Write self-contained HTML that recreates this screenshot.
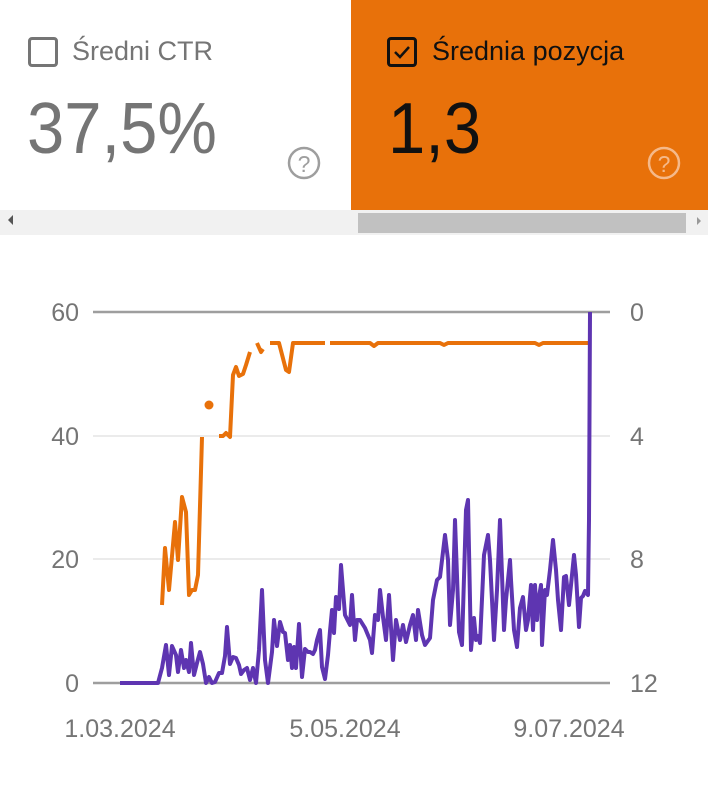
<!DOCTYPE html>
<html><head><meta charset="utf-8"><style>
body{margin:0;width:708px;height:800px;background:#fff;font-family:"Liberation Sans",sans-serif;position:relative;overflow:hidden}
.a{position:absolute;white-space:nowrap}
</style></head><body>
<div class="a" style="left:351px;top:0;width:357px;height:210px;background:#e8710a"></div>
<div class="a" style="left:0;top:210px;width:708px;height:25px;background:#f1f1f1"></div>
<div class="a" style="left:358px;top:213px;width:328px;height:20px;background:#c1c1c1"></div>
<div class="a" style="left:8px;top:215px;width:0;height:0;border:5px solid transparent;border-right:5px solid #555;border-left:0"></div>
<div class="a" style="left:697px;top:217px;width:0;height:0;border:4px solid transparent;border-left:4px solid #999;border-right:0"></div>
<div class="a" style="left:28px;top:37px;width:30px;height:30px;border:3px solid #757575;border-radius:4px;box-sizing:border-box"></div>
<div class="a" style="left:72px;top:36px;font-size:27px;color:#757575">Średni CTR</div>
<div class="a" style="left:27px;top:88px;font-size:72px;color:#757575;transform:scaleX(.93);transform-origin:0 0">37,5%</div>
<div class="a" style="left:387px;top:37px;width:30px;height:30px;border:3px solid #111;border-radius:4px;box-sizing:border-box"></div>
<svg class="a" style="left:387px;top:37px" width="30" height="30"><path d="M8 15 L13 20 L22 10" stroke="#111" stroke-width="2.5" fill="none"/></svg>
<div class="a" style="left:432px;top:36px;font-size:27px;color:#111">Średnia pozycja</div>
<div class="a" style="left:388px;top:88px;font-size:72px;color:#111;transform:scaleX(.93);transform-origin:0 0">1,3</div>
<svg class="a" style="left:0;top:0" width="708" height="800">
<circle cx="304" cy="163" r="15" fill="none" stroke="#9e9e9e" stroke-width="2.5"/>
<text x="304" y="172" font-size="23" fill="#9e9e9e" text-anchor="middle" font-family="Liberation Sans">?</text>
<circle cx="664" cy="163" r="15" fill="none" stroke="#f5b98a" stroke-width="2.5"/>
<text x="664" y="172" font-size="23" fill="#f5b98a" text-anchor="middle" font-family="Liberation Sans">?</text>
<g stroke="#ebebeb" stroke-width="2"><line x1="93" y1="436" x2="610" y2="436"/><line x1="93" y1="559" x2="610" y2="559"/></g>
<line x1="93" y1="312" x2="610" y2="312" stroke="#9e9e9e" stroke-width="2.5"/>
<line x1="93" y1="683" x2="610" y2="683" stroke="#9e9e9e" stroke-width="2.5"/>
<g font-family="Liberation Sans" font-size="25" fill="#757575">
<text x="79" y="321" text-anchor="end">60</text><text x="79" y="445" text-anchor="end">40</text><text x="79" y="568" text-anchor="end">20</text><text x="79" y="692" text-anchor="end">0</text>
<text x="630" y="321">0</text><text x="630" y="445">4</text><text x="630" y="568">8</text><text x="630" y="692">12</text>
<text x="120" y="737" text-anchor="middle">1.03.2024</text><text x="345" y="737" text-anchor="middle">5.05.2024</text><text x="569" y="737" text-anchor="middle">9.07.2024</text>
</g>
<g fill="none" stroke="#e8710a" stroke-width="4" stroke-linejoin="round">
<polyline points="162,605 165,548 169,590 175,522 178,560 182,497 186,512 189,595 192,590 195,590 198,575 202,437"/>
<polyline points="219,436 223,436 226,433 230,437 233,375 236,367 239,376 243,374 246,365 250,352"/>
<polyline points="257,343 261,352 263,349"/>
<polyline points="270,343 279,343 286,370 289,372 293,343 325,343"/>
<polyline points="330,343 370,343 374,346 378,343 440,343 444,345 448,343 535,343 539,345 543,343 589,343"/>
</g>
<circle cx="209" cy="405" r="4.5" fill="#e8710a"/>
<polyline fill="none" stroke="#5e35b1" stroke-width="4" stroke-linejoin="round" points="120,683 158,683 162,668 166,645 169,675 172,646 176,655 178,672 181,650 184,668 186,660 189,672 191,643 194,675 197,663 200,652 203,664 206,683 209,677 212,683 215,682 219,673 222,673 225,656 227,627 230,664 233,657 236,658 239,665 241,674 244,670 247,668 250,680 253,668 256,683 259,650 262,590 265,660 268,683 272,652 274,620 277,646 280,622 283,632 285,633 288,660 290,645 292,668 294,647 296,668 299,624 302,677 305,649 308,652 310,652 313,654 315,650 317,640 320,630 322,667 325,679 328,655 330,631 332,610 334,633 336,597 339,609 341,565 345,615 350,625 352,595 355,640 357,620 360,620 365,628 370,640 372,653 375,615 378,620 380,590 383,617 386,640 389,595 393,660 396,620 400,640 403,625 406,642 410,625 413,615 416,640 418,610 422,635 425,645 430,638 433,600 437,580 440,577 445,535 448,560 450,625 453,590 455,520 459,632 462,645 466,510 468,500 471,650 474,618 476,640 478,636 480,643 484,555 488,535 490,560 494,640 497,590 500,520 504,630 506,600 510,560 511,580 514,630 517,647 520,608 523,597 526,630 528,620 531,585 533,630 535,585 537,620 538,603 541,585 542,645 545,590 547,595 550,570 553,540 556,570 558,600 561,630 564,577 566,576 569,605 574,555 576,575 579,627 581,598 583,596 585,591 588,595 589,520 590,312"/>
</svg>
</body></html>
